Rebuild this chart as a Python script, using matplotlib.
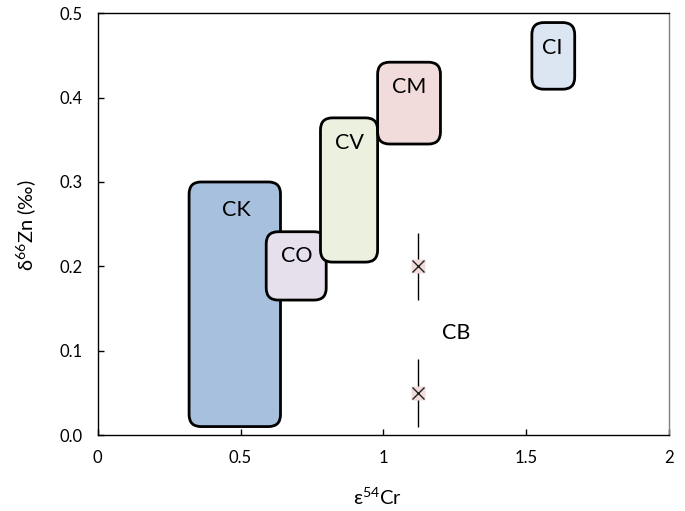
import matplotlib
matplotlib.use("Agg")
import matplotlib.pyplot as plt
from matplotlib.patches import FancyBboxPatch

plt.rcParams['font.family'] = ['Lato', 'DejaVu Sans']
plt.rcParams['mathtext.fontset'] = 'custom'
plt.rcParams['mathtext.rm'] = 'Lato'
plt.rcParams['mathtext.it'] = 'Lato:italic'
plt.rcParams['mathtext.bf'] = 'Lato:bold'

# ---- data ----
groups = ['CK', 'CO', 'CV', 'CM', 'CI']
cr_lo = [0.32, 0.59, 0.78, 0.98, 1.52]
cr_hi = [0.64, 0.80, 0.98, 1.20, 1.67]
zn_lo = [0.010, 0.160, 0.205, 0.345, 0.410]
zn_hi = [0.300, 0.241, 0.376, 0.442, 0.489]
fills = ['#a7c0de', '#e6e0ec', '#ebf1de', '#f2dcdb', '#dce6f2']

cb_cr = [1.12, 1.12]
cb_zn = [0.20, 0.05]
cb_err = [0.04, 0.04]

x_ticks = [0, 0.5, 1, 1.5, 2]
x_tick_labels = ['0', '0.5', '1', '1.5', '2']
y_ticks = [0.0, 0.1, 0.2, 0.3, 0.4, 0.5]
y_tick_labels = ['0.0', '0.1', '0.2', '0.3', '0.4', '0.5']

# label anchor points (data coords)
label_x = [0.485, 0.698, 0.880, 1.090, 1.590]
label_y = [0.267, 0.212, 0.346, 0.413, 0.459]
cb_label = ('CB', 1.255, 0.121)

fig = plt.figure(figsize=(6.85, 5.11), dpi=100)
ax = fig.add_axes([0.1426, 0.1487, 0.834, 0.8253])
ax.set_xlim(0, 2)
ax.set_ylim(0, 0.5)

# compute aspect for rounded corners
ax_w_px = 0.834 * 685
ax_h_px = 0.8253 * 511
px_x = 2 / ax_w_px
px_y = 0.5 / ax_h_px
r_px = 12
aspect = px_y / px_x

for i in range(len(groups)):
    w = cr_hi[i] - cr_lo[i]
    h = zn_hi[i] - zn_lo[i]
    p = FancyBboxPatch((cr_lo[i], zn_lo[i]), w, h,
                       boxstyle=f"round,pad=0,rounding_size={r_px * px_x}",
                       mutation_aspect=aspect,
                       facecolor=fills[i], edgecolor='black', linewidth=2,
                       zorder=2 + i)
    ax.add_patch(p)
    ax.text(label_x[i], label_y[i], groups[i], ha='center', va='center',
            fontsize=15.5, zorder=10)

ax.errorbar(cb_cr, cb_zn, yerr=cb_err, fmt='none', ecolor='black',
            elinewidth=1, capsize=0, zorder=11)
ax.plot(cb_cr, cb_zn, linestyle='none', marker='s', markersize=10,
        markerfacecolor='#f2dcdb', markeredgecolor='none', zorder=12)
ax.plot(cb_cr, cb_zn, linestyle='none', marker='x', markersize=9,
        markeredgecolor='#222222', markeredgewidth=1, zorder=13)
ax.text(cb_label[1], cb_label[2], cb_label[0], ha='center', va='center',
        fontsize=15.5, zorder=10)

ax.set_xticks(x_ticks)
ax.set_xticklabels(x_tick_labels)
ax.set_yticks(y_ticks)
ax.set_yticklabels(y_tick_labels)
ax.tick_params(axis='both', direction='in', length=4, width=1,
               labelsize=12, colors='black')
ax.tick_params(axis='x', pad=11)
ax.tick_params(axis='y', pad=11)

for s in ['left', 'bottom', 'top']:
    ax.spines[s].set_linewidth(1)
    ax.spines[s].set_color('black')
ax.spines['right'].set_linewidth(1)
ax.spines['right'].set_color('#808080')

ax.set_xlabel(r'ε$^{\mathrm{54}}$Cr', fontsize=14.5)
ax.set_ylabel(r'δ$^{\mathrm{66}}$Zn (‰)', fontsize=14.5)
ax.xaxis.set_label_coords(0.49, -0.122)
ax.yaxis.set_label_coords(-0.104, 0.498)

fig.savefig('out.png', dpi=100)
